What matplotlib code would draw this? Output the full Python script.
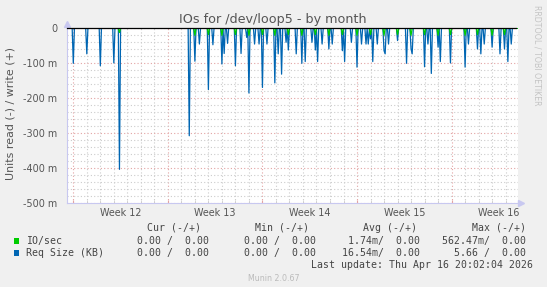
import numpy as np
import matplotlib
matplotlib.use("Agg")
import matplotlib.pyplot as plt
from matplotlib.ticker import FixedLocator, NullFormatter

# ---------------- data (days from Mon Mar 16 2026, values in units) -------------
req_days = [0.00, 1.01, 2.00, 3.03, 3.40, 8.56, 9.01, 9.30, 9.99, 10.36, 11.03, 11.18,
            11.43, 11.99, 12.44, 12.83, 13.03, 13.38, 13.72, 13.99, 14.36, 14.95, 15.17,
            15.40, 15.74, 15.94, 16.51, 16.95, 17.20, 17.69, 17.94, 18.06, 18.39, 18.95,
            19.13, 19.94, 20.06, 20.61, 21.00, 21.35, 21.64, 21.84, 21.98, 22.16, 22.48,
            23.02, 23.07, 23.37, 23.96, 24.65, 24.97, 25.09, 25.96, 26.28, 26.50, 26.97,
            27.16, 27.93, 28.99, 29.24, 29.93, 30.17, 30.39, 30.97, 31.61, 31.90, 32.15,
            32.45]
req_vals = [-0.100, -0.073, -0.107, -0.099, -0.403, -0.307, -0.094, -0.045, -0.175, -0.047,
            -0.102, -0.072, -0.043, -0.107, -0.072, -0.026, -0.185, -0.045, -0.045, -0.169,
            -0.045, -0.156, -0.073, -0.131, -0.040, -0.062, -0.073, -0.100, -0.095, -0.040,
            -0.062, -0.095, -0.045, -0.059, -0.045, -0.064, -0.095, -0.040, -0.111, -0.045,
            -0.045, -0.045, -0.030, -0.095, -0.045, -0.064, -0.073, -0.045, -0.035, -0.100,
            -0.059, -0.073, -0.110, -0.045, -0.129, -0.054, -0.095, -0.099, -0.111, -0.045,
            -0.059, -0.073, -0.045, -0.054, -0.073, -0.059, -0.095, -0.045]

io_days = [3.40, 9.01, 9.99, 11.03, 11.99, 13.03, 13.99, 14.95, 15.94, 16.95, 17.94,
           18.95, 19.94, 21.00, 21.98, 23.02, 23.96, 24.97, 25.96, 26.97, 27.93, 28.99,
           29.93, 30.97, 31.90]
io_vals = [-0.012, -0.020, -0.018, -0.020, -0.018, -0.020, -0.018, -0.020, -0.018,
           -0.020, -0.018, -0.020, -0.018, -0.020, -0.018, -0.020, -0.018, -0.020,
           -0.018, -0.020, -0.018, -0.020, -0.018, -0.020, -0.018]

week_starts = [0, 7, 14, 21, 28]
week_labels = ["Week 12", "Week 13", "Week 14", "Week 15", "Week 16"]
y_ticks = [0, -0.1, -0.2, -0.3, -0.4, -0.5]
y_tick_labels = ["0", "-100 m", "-200 m", "-300 m", "-400 m", "-500 m"]

legend_names = ["IO/sec", "Req Size (KB)"]
legend_colors = ["#00CC00", "#0066B3"]
col_headers = ["Cur (-/+)", "Min (-/+)", "Avg (-/+)", "Max (-/+)"]
cur_txt = ["0.00 /  0.00", "0.00 /  0.00"]
min_txt = ["0.00 /  0.00", "0.00 /  0.00"]
avg_txt = ["1.74m/  0.00", "16.54m/  0.00"]
max_txt = ["562.47m/  0.00", "5.66 /  0.00"]

# ---------------- build series on a 2-hour grid ----------------
STEP = 1.0 / 12
T0, T1 = -0.5, 33.0
t = np.arange(T0, T1 + STEP, STEP)


def series(days, vals):
    y = np.zeros_like(t)
    for d, v in zip(days, vals):
        y[int(round((d - T0) / STEP))] = v
    return y


req_y = series(req_days, req_vals)
io_y = series(io_days, io_vals)

# ---------------- figure ----------------
W, H = 547, 287
fig = plt.figure(figsize=(W / 100, H / 100), dpi=100, facecolor="#F0F0F0")
L, R, TOP, BOT = 67, 517.5, 28.3, 203.3
ax = fig.add_axes([L / W, 1 - BOT / H, (R - L) / W, (BOT - TOP) / H])
ax.set_facecolor("#FFFFFF")

px_per_day = 13.51
x0px = 73.3
ax.set_xlim((L - x0px) / px_per_day, (R - x0px) / px_per_day)
ax.set_ylim(-0.5, 0)

# grid
minor_col = "#CCCCCC"
major_col = "#E3A3A3"
dot = (0, (1, 2))
ax.xaxis.set_major_locator(FixedLocator(week_starts))
ax.xaxis.set_minor_locator(FixedLocator(list(range(-0, 34))))
ax.yaxis.set_major_locator(FixedLocator(y_ticks))
ax.yaxis.set_minor_locator(FixedLocator(list(np.arange(-0.5, 0.001, 0.02))))
ax.grid(which="minor", color=minor_col, linestyle=dot, linewidth=0.8)
ax.grid(which="major", color=major_col, linestyle=dot, linewidth=0.8)
ax.xaxis.set_major_formatter(NullFormatter())
ax.set_yticklabels(y_tick_labels)
ax.tick_params(axis="y", which="both", length=0, pad=7, labelsize=6.9, labelcolor="#555555")
ax.tick_params(axis="x", which="major", length=2, direction="in", color=major_col)
ax.tick_params(axis="x", which="minor", length=2, direction="in", color=minor_col)

for s in ("top", "right"):
    ax.spines[s].set_visible(False)
for s in ("left", "bottom"):
    ax.spines[s].set_color("#C8C8F0")
    ax.spines[s].set_linewidth(0.8)
ax.plot([0], [1.022], marker="^", color="#C8C8F0", markersize=4, transform=ax.transAxes,
        clip_on=False)
ax.plot([1.008], [0], marker=">", color="#C8C8F0", markersize=4, transform=ax.transAxes,
        clip_on=False)

# week labels
for ws, lab in zip(week_starts, week_labels):
    ax.text(ws + 3.5, -0.058, lab, transform=ax.get_xaxis_transform(), ha="center",
            va="center", fontsize=6.9, color="#555555")

# data lines
ax.plot(t, req_y, color=legend_colors[1], linewidth=0.9, zorder=3)
ax.plot(t, io_y, color=legend_colors[0], linewidth=0.9, zorder=4)
ax.axhline(0, color="black", linewidth=0.9, zorder=5, clip_on=False,
           xmax=(515.7 - L) / (R - L))

# ---------------- texts ----------------
def ftext(x, y, s, **kw):
    fig.text(x / W, 1 - y / H, s, **kw)


ftext(272.8, 19.0, "IOs for /dev/loop5 - by month", ha="center", va="center",
      fontsize=9.2, color="#555555")
ftext(11, 113.3, "Units read (-) / write (+)", ha="center", va="center", rotation=90,
      fontsize=7.9, color="#555555")
ftext(537.3, 5, "RRDTOOL / TOBI OETIKER", ha="center", va="top", rotation=270,
      fontsize=5.7, color="#C4C4C4")

mono = dict(family="DejaVu Sans Mono", fontsize=7.1, color="#444444", va="center")
head_ends = [200.6, 308.8, 417.0, 526.2]
for h, xe in zip(col_headers, head_ends):
    ftext(xe, 227.8, h, ha="right", **mono)

row_y = [240.8, 252.8]
val_ends = [209.4, 315.8, 420.4, 526.2]
for i in range(2):
    y = row_y[i]
    fig.patches.append(plt.Rectangle((14.0 / W, 1 - (y + 2.8) / H), 5.2 / W, 5.6 / H,
                                     transform=fig.transFigure, facecolor=legend_colors[i],
                                     edgecolor="none"))
    ftext(26.2, y, legend_names[i], ha="left", **mono)
    for col, xe in zip((cur_txt, min_txt, avg_txt, max_txt), val_ends):
        ftext(xe, y, col[i], ha="right", **mono)

ftext(532.8, 264.6, "Last update: Thu Apr 16 20:02:04 2026", ha="right", **mono)
ftext(273.5, 278.2, "Munin 2.0.67", ha="center", va="center", fontsize=5.7,
      color="#BBBBBB")

fig.savefig("out.png", dpi=100, facecolor=fig.get_facecolor())
